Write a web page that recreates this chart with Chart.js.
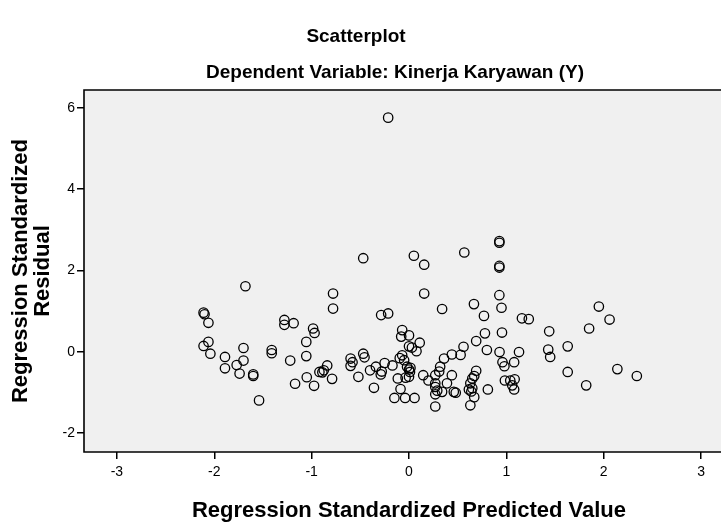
<!DOCTYPE html>
<html><head><meta charset="utf-8">
<script src="https://cdn.jsdelivr.net/npm/chart.js@4/dist/chart.umd.min.js"></script>
<style>html,body{margin:0;padding:0;background:#fff;overflow:hidden}#wrap{width:721px;height:523px;position:relative;overflow:hidden}</style>
</head><body><div id="wrap"><canvas id="c" width="740" height="523"></canvas></div>
<script>
const predicted = [-2.11,-2.10,-2.06,-2.06,-2.11,-2.04,-1.89,-1.89,-1.70,-1.70,
-1.77,-1.74,-1.60,-1.60,-1.54,-1.68,-1.41,-1.41,-1.28,-1.28,
-1.185,-1.22,-1.17,-1.055,-1.055,-0.985,-0.97,-1.05,-0.975,-0.92,
-0.89,-0.875,-0.84,-0.79,-0.78,-0.78,-0.60,-0.58,-0.60,-0.52,
-0.47,-0.457,-0.47,-0.40,-0.34,-0.29,-0.28,-0.25,-0.36,-0.286,
-0.214,-0.214,-0.17,-0.095,-0.07,-0.05,-0.07,-0.08,0.0,0.11,
0.0,0.03,0.077,-0.02,0.0,0.015,0.01,-0.115,-0.035,0.0,
-0.087,-0.15,-0.04,0.057,0.05,0.156,0.156,0.146,0.20,0.34,
0.36,0.32,0.31,0.27,0.44,0.39,0.27,0.27,0.29,0.27,
0.34,0.46,0.48,0.27,0.44,0.53,0.568,0.56,0.69,0.667,
0.77,0.78,0.80,0.63,0.615,0.64,0.65,0.67,0.63,0.65,
0.67,0.69,0.81,0.928,0.928,0.928,0.928,0.928,0.95,0.955,
0.93,1.13,0.96,0.98,1.08,0.985,1.04,1.085,1.06,1.08,
1.16,1.23,1.44,1.43,1.45,1.63,1.63,1.82,1.85,1.95,
2.06,2.14,2.34];
const residual = [0.96,0.92,0.71,0.24,0.14,-0.05,-0.13,-0.41,0.09,-0.22,
-0.33,-0.54,-0.56,-0.60,-1.20,1.61,0.04,-0.04,0.78,0.66,
0.70,-0.22,-0.79,0.24,-0.11,0.57,0.46,-0.63,-0.84,-0.50,
-0.51,-0.46,-0.34,-0.67,1.43,1.06,-0.17,-0.26,-0.35,-0.62,
-0.05,-0.14,2.30,-0.46,-0.37,-0.56,-0.49,-0.28,-0.89,0.90,
0.94,5.76,-0.34,-0.16,-0.09,-0.21,0.53,0.37,0.40,0.22,
0.13,0.10,0.01,-0.37,-0.44,-0.40,-0.50,-0.66,-0.64,-0.62,
-0.92,-1.14,-1.14,-1.14,2.36,2.14,1.43,-0.58,-0.71,1.05,
-0.17,-0.37,-0.49,-0.58,-0.58,-0.78,-0.78,-0.87,-0.96,-1.05,
-0.99,-0.99,-1.01,-1.35,-0.07,-0.08,2.44,0.12,0.26,1.17,
0.88,0.45,0.04,-0.78,-0.93,-0.98,-0.90,-1.12,-1.32,-0.66,
-0.60,-0.47,-0.93,2.72,2.68,2.11,2.07,1.39,1.08,0.47,
-0.01,-0.01,-0.26,-0.36,-0.26,-0.71,-0.71,-0.68,-0.83,-0.93,
0.82,0.80,0.50,0.05,-0.13,0.13,-0.50,-0.83,0.57,1.11,
0.79,-0.43,-0.60];
const xTicks = [-3,-2,-1,0,1,2,3];
const yTicks = [-2,0,2,4,6];
const titleText = 'Scatterplot';
const subtitleText = 'Dependent Variable: Kinerja Karyawan (Y)';
const xTitle = 'Regression Standardized Predicted Value';
const yTitle = ['Regression Standardized', 'Residual'];

const points = predicted.map((x, i) => ({x: x, y: residual[i]}));
const FONT = '"Liberation Sans", Arial, sans-serif';

const framePlugin = {
  id: 'frame',
  beforeDraw(chart) {
    const a = chart.chartArea, ctx = chart.ctx;
    ctx.save();
    ctx.fillStyle = '#f0f0f0';
    ctx.fillRect(a.left, a.top, a.right - a.left, a.bottom - a.top);
    ctx.restore();
  },
  afterDraw(chart) {
    const a = chart.chartArea, ctx = chart.ctx;
    ctx.save();
    ctx.strokeStyle = '#000';
    ctx.lineWidth = 1.6;
    ctx.beginPath();
    ctx.moveTo(a.right, a.top);
    ctx.lineTo(a.left, a.top);
    ctx.lineTo(a.left, a.bottom);
    ctx.lineTo(a.right, a.bottom);
    ctx.stroke();
    ctx.fillStyle = '#000';
    ctx.textAlign = 'center';
    ctx.textBaseline = 'middle';
    ctx.font = 'bold 19px ' + FONT;
    ctx.fillText(titleText, 356, 37);
    ctx.fillText(subtitleText, 395, 73);
    ctx.restore();
  }
};

new Chart(document.getElementById('c'), {
  type: 'scatter',
  data: {
    datasets: [{
      data: points,
      pointStyle: 'circle',
      pointRadius: 4.7,
      pointHoverRadius: 4.7,
      borderColor: '#000',
      borderWidth: 1.3,
      backgroundColor: 'rgba(0,0,0,0)'
    }]
  },
  options: {
    responsive: false,
    devicePixelRatio: 1,
    animation: false,
    events: [],
    layout: {padding: {top: 90, right: 0, left: 0, bottom: 0}},
    plugins: {legend: {display: false}, tooltip: {enabled: false}, title: {display: false}},
    scales: {
      x: {
        type: 'linear',
        min: -3.338,
        max: 3.338,
        afterBuildTicks(s) { s.ticks = xTicks.map(v => ({value: v})); },
        afterFit(s) { s.height = 71; s.paddingLeft = 0; s.paddingRight = 0; },
        grid: {display: true, drawOnChartArea: false, drawTicks: true, tickLength: 7, color: '#000', lineWidth: 1.5},
        border: {display: false},
        ticks: {color: '#000', font: {family: FONT, size: 14}, padding: 5, maxRotation: 0, autoSkip: false},
        title: {display: true, text: xTitle, color: '#000', font: {family: FONT, size: 22, weight: 'bold', lineHeight: 1.0}, padding: {top: 0, bottom: 1}}
      },
      y: {
        type: 'linear',
        min: -2.47,
        max: 6.44,
        afterBuildTicks(s) { s.ticks = yTicks.map(v => ({value: v})); },
        afterFit(s) { s.width = 84; s.paddingTop = 0; s.paddingBottom = 0; },
        grid: {display: true, drawOnChartArea: false, drawTicks: true, tickLength: 7, color: '#000', lineWidth: 1.5},
        border: {display: false},
        ticks: {color: '#000', font: {family: FONT, size: 14}, padding: 2, autoSkip: false},
        title: {display: true, text: yTitle, color: '#000', font: {family: FONT, size: 22, weight: 'bold', lineHeight: 1.0}, padding: {top: 10, bottom: 0}}
      }
    }
  },
  plugins: [framePlugin]
});
</script></body></html>
